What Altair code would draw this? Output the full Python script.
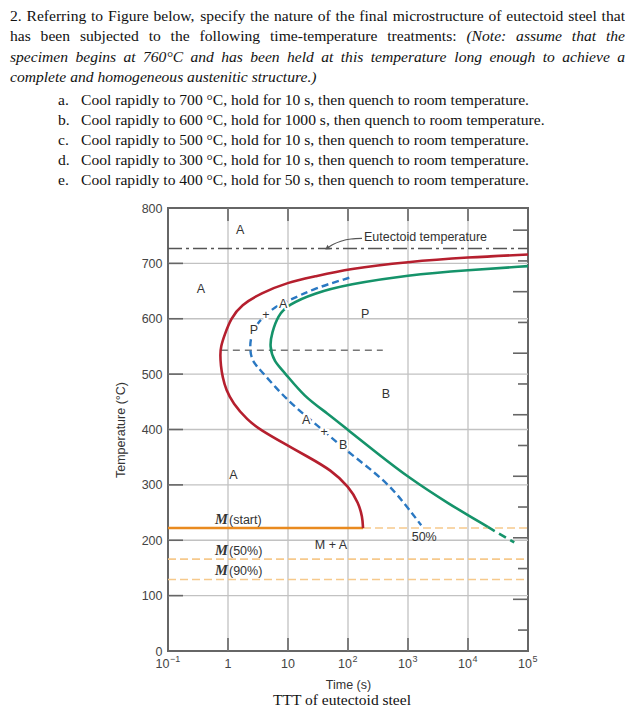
import altair as alt
import pandas as pd

# ---------------- question text ----------------
PARA_LINES = [
    [("2. Referring to Figure below, specify the nature of the final microstructure of eutectoid steel that", "normal")],
    [("has been subjected to the following time-temperature treatments:", "normal"),
     ("(Note: assume that the", "italic")],
    [("specimen begins at 760°C and has been held at this temperature long enough to achieve a", "italic")],
]
PARA_LAST = "complete and homogeneous austenitic structure.)"
ITEM_LABELS = ["a.", "b.", "c.", "d.", "e."]
ITEM_TEXTS = [
    "Cool rapidly to 700 °C, hold for 10 s, then quench to room temperature.",
    "Cool rapidly to 600 °C, hold for 1000 s, then quench to room temperature.",
    "Cool rapidly to 500 °C, hold for 10 s, then quench to room temperature.",
    "Cool rapidly to 300 °C, hold for 10 s, then quench to room temperature.",
    "Cool rapidly to 400 °C, hold for 50 s, then quench to room temperature.",
]
CAPTION = "TTT of eutectoid steel"

# ---------------- chart data (time in s, temperature in °C) ----------------
red_t = [1e5, 1e4, 1000, 100, 27, 10, 3.5, 1.66, 1.12, 0.87, 0.76, 0.74, 0.76, 0.81, 0.93,
         1.2, 2.1, 3.5, 8.5, 22, 52, 105, 150, 174, 178]
red_T = [716, 711, 703, 690, 676, 666, 646, 625, 601, 570, 550, 535, 515, 495, 471,
         448, 417, 399, 375, 350, 327, 296, 267, 242, 222]

green_t = [1e5, 1e4, 1000, 100, 27, 10, 6.8, 5.4, 4.9, 5.9, 8.5, 18.6, 46, 100, 309, 1000, 4570, 21400]
green_T = [695, 688, 679, 662, 646, 625, 606, 575, 550, 522, 505, 459, 429, 399, 357, 314, 267, 224]
green_dash_t = [21400, 59000]
green_dash_T = [224, 196]

blue_t = [105, 27.5, 10, 5.9, 4.3, 3.16, 2.4, 2.3, 2.57, 3.5, 6.8, 12.9, 35.5, 98, 407, 871, 1660]
blue_T = [674, 655, 632, 621, 606, 594, 570, 543, 522, 507, 471, 441, 402, 360, 309, 267, 227]

eutectoid_T = 727
nose_ref_t = [0.76, 380]
nose_ref_T = 543
ms_T = 222
ms_end_t = 178
m50_T = 166
m90_T = 129

region_labels = ["A", "A", "P", "B", "A", "M + A", "50%"]
region_t = [1.6, 0.355, 194, 430, 1.23, 52, 1862]
region_T = [761, 653, 608, 465, 318, 191, 206]
curve_labels = ["P", "+", "A", "A", "+", "B"]
curve_t = [2.7, 4.3, 8.3, 20, 40, 83]
curve_T = [579, 606, 626, 417, 396, 372]

m_suffix = ["(start)", "(50%)", "(90%)"]
m_label_t = [1.0, 1.0, 1.0]
m_label_T = [229, 173, 137]

eut_label = "Eutectoid temperature"
eut_label_t, eut_label_T = 185, 740
arrow_t = [171, 112, 76, 56, 46]
arrow_T = [745, 744, 740, 734, 728]

x_tick_vals = [0.1, 1, 10, 100, 1000, 10000, 100000]
x_tick_base = ["10", "1", "10", "10", "10", "10", "10"]
x_tick_exp = ["−1", "", "", "2", "3", "4", "5"]
y_tick_vals = [0, 100, 200, 300, 400, 500, 600, 700, 800]
right_F = [100, 200, 300, 400, 500, 600, 700, 800, 900, 1000, 1100, 1200, 1300, 1400]

# ---------------- layout helpers ----------------
W, H = 360, 443
X0, Y0 = 167, 208          # page position of the plot origin
SANS = "Liberation Sans, Arial, sans-serif"
SERIF = "Liberation Serif, Times New Roman, serif"
FS = 15.6
PX_PER_DECADE = W / 6


def t_at(px):
    return 10 ** (-1 + (px - X0) / PX_PER_DECADE)


def T_at(py):
    return 800 * (1 - (py - Y0) / H)


REG = dict(zip("abcdefghijklmnopqrstuvwxyz",
               [444, 500, 444, 500, 444, 333, 500, 500, 278, 278, 500, 278, 778, 500, 500, 500, 500,
                333, 389, 278, 500, 500, 722, 500, 500, 444]))
REG.update(dict(zip("ABCDEFGHIJKLMNOPQRSTUVWXYZ",
                    [722, 667, 667, 722, 611, 556, 722, 722, 333, 389, 722, 611, 889, 722, 722, 556,
                     722, 667, 556, 611, 722, 722, 944, 722, 722, 611])))
ITA = dict(zip("abcdefghijklmnopqrstuvwxyz",
               [500, 500, 444, 500, 444, 278, 500, 500, 278, 278, 444, 278, 722, 500, 500, 500, 500,
                389, 389, 278, 500, 444, 667, 444, 444, 389]))
ITA.update(dict(zip("ABCDEFGHIJKLMNOPQRSTUVWXYZ",
                    [611, 611, 667, 722, 611, 611, 722, 722, 333, 444, 667, 556, 833, 667, 722, 611,
                     722, 611, 500, 556, 722, 611, 833, 611, 556, 556])))
for d, colon in ((REG, 278), (ITA, 333)):
    d.update({c: 500 for c in "0123456789"})
    d.update({" ": 250, ".": 250, ",": 250, ":": colon, "(": 333, ")": 333, "-": 333, "°": 400, "%": 833})


def text_width(s, italic):
    tbl = ITA if italic else REG
    return sum(tbl.get(c, 500) for c in s) * FS / 1000


LEFT, RIGHT = 9, 624
BASE0, LH = 21, 20.4
rows_n, rows_i = [], []
for li, segs in enumerate(PARA_LINES):
    words = [(w, st) for txt, st in segs for w in txt.split(" ")]
    ws = [text_width(w, st == "italic") for w, st in words]
    gap = (RIGHT - LEFT - sum(ws)) / (len(words) - 1)
    x = LEFT
    for (w, st), wd in zip(words, ws):
        row = dict(t=t_at(x), T=T_at(BASE0 + li * LH), s=w)
        (rows_i if st == "italic" else rows_n).append(row)
        x += wd + gap
rows_i.append(dict(t=t_at(LEFT), T=T_at(BASE0 + 3 * LH), s=PARA_LAST))

LIST0, LLH = 105, 19.9
item_lab_df = pd.DataFrame(dict(t=[t_at(57)] * 5, T=[T_at(LIST0 + j * LLH) for j in range(5)], s=ITEM_LABELS))
item_txt_df = pd.DataFrame(dict(t=[t_at(80)] * 5, T=[T_at(LIST0 + j * LLH) for j in range(5)], s=ITEM_TEXTS))
cap_df = pd.DataFrame(dict(t=[t_at(341)], T=[T_at(705)], s=[CAPTION]))

# ---------------- scales / axes ----------------
xs = alt.Scale(type="log", domain=[0.1, 1e5], nice=False)
ys = alt.Scale(domain=[0, 800], nice=False, zero=False)
xaxis = alt.Axis(values=x_tick_vals, labels=False, title="Time (s)", grid=False,
                 ticks=False, tickSize=0, domain=False,
                 titleFont=SANS, titleFontSize=12.5, titleFontWeight="normal", titleColor="#333",
                 titlePadding=27)
yaxis = alt.Axis(values=y_tick_vals, title="Temperature (°C)", grid=False,
                 ticks=False, tickSize=0, domain=False, labelFont=SANS, labelFontSize=12.5,
                 labelColor="#444", labelPadding=6, titleFont=SANS, titleFontSize=12.5,
                 titleFontWeight="normal", titleColor="#333", titlePadding=14)
X = alt.X("t:Q", scale=xs, axis=xaxis)
Y = alt.Y("T:Q", scale=ys, axis=yaxis)


def curve(ts, Ts, color, width, dash=None, interp="basis"):
    df = pd.DataFrame(dict(t=ts, T=Ts, i=range(len(ts))))
    kw = dict(color=color, strokeWidth=width, interpolate=interp)
    if dash:
        kw["strokeDash"] = dash
    return alt.Chart(df).mark_line(**kw).encode(x=X, y=Y, order="i:Q")


layers = []

# grid lines
GRID = "#c2c2c2"
layers.append(alt.Chart(pd.DataFrame(dict(t=x_tick_vals[1:-1]))).mark_rule(color=GRID, strokeWidth=1.3)
              .encode(x=X, y=alt.value(0), y2=alt.value(H)))
layers.append(alt.Chart(pd.DataFrame(dict(T=y_tick_vals[1:-1]))).mark_rule(color=GRID, strokeWidth=1.3)
              .encode(y=Y, x=alt.value(0), x2=alt.value(W)))

# frame ticks
layers.append(alt.Chart(pd.DataFrame(dict(T=y_tick_vals))).mark_rule(color="#666", strokeWidth=1.6)
              .encode(y=Y, x=alt.value(0), x2=alt.value(15)))
layers.append(alt.Chart(pd.DataFrame(dict(t=x_tick_vals[1:-1]))).mark_rule(color="#666", strokeWidth=1.6)
              .encode(x=X, y=alt.value(H), y2=alt.value(H - 13)))
layers.append(alt.Chart(pd.DataFrame(dict(t=x_tick_vals[1:-1]))).mark_rule(color="#666", strokeWidth=1.6)
              .encode(x=X, y=alt.value(0), y2=alt.value(13)))
rc_long = [(f - 32) / 1.8 for f in right_F if f % 200 == 0]
rc_short = [(f - 32) / 1.8 for f in right_F if f % 200 != 0]
layers.append(alt.Chart(pd.DataFrame(dict(T=rc_long))).mark_rule(color="#666", strokeWidth=1.6)
              .encode(y=Y, x=alt.value(W), x2=alt.value(W - 15)))
layers.append(alt.Chart(pd.DataFrame(dict(T=rc_short))).mark_rule(color="#666", strokeWidth=1.6)
              .encode(y=Y, x=alt.value(W), x2=alt.value(W - 10)))

# x tick labels (base + superscript exponent)
plain = [(v, b) for v, b, e in zip(x_tick_vals, x_tick_base, x_tick_exp) if not e]
withexp = [(v, b, e) for v, b, e in zip(x_tick_vals, x_tick_base, x_tick_exp) if e]
anchor_t = [v * 10 ** ((6.5 - 2.5 * len(e)) / PX_PER_DECADE) for v, b, e in withexp]
layers.append(alt.Chart(pd.DataFrame(dict(t=[p[0] for p in plain], s=[p[1] for p in plain])))
              .mark_text(align="center", baseline="middle", font=SANS, fontSize=12.5, color="#444")
              .encode(x=X, y=alt.value(H + 13), text="s:N"))
layers.append(alt.Chart(pd.DataFrame(dict(t=anchor_t, s=[w[1] for w in withexp])))
              .mark_text(align="right", baseline="middle", font=SANS, fontSize=12.5, color="#444")
              .encode(x=X, y=alt.value(H + 13), text="s:N"))
layers.append(alt.Chart(pd.DataFrame(dict(t=anchor_t, s=[w[2] for w in withexp])))
              .mark_text(align="left", baseline="middle", font=SANS, fontSize=9, color="#444", dx=0.5)
              .encode(x=X, y=alt.value(H + 8), text="s:N"))

# horizontal reference lines
layers.append(curve([0.1, 1e5], [eutectoid_T] * 2, "#555", 1.5, [14, 4, 3, 4], "linear"))
layers.append(curve(nose_ref_t, [nose_ref_T] * 2, "#777", 1.6, [7, 5], "linear"))
layers.append(curve([ms_end_t, 1e5], [ms_T] * 2, "#f6c98c", 1.6, [8, 4], "linear"))
layers.append(curve([0.1, 1e5], [m50_T] * 2, "#f6c98c", 1.6, [8, 4], "linear"))
layers.append(curve([0.1, 1e5], [m90_T] * 2, "#f6c98c", 1.6, [8, 4], "linear"))
layers.append(curve([0.1, ms_end_t], [ms_T] * 2, "#e98a1f", 2.6, None, "linear"))

# transformation curves
layers.append(curve(red_t, red_T, "#b51f2e", 2.6))
layers.append(curve(green_t, green_T, "#15936a", 2.6))
layers.append(curve(green_dash_t, green_dash_T, "#15936a", 2.6, [8, 5], "linear"))
layers.append(curve(blue_t, blue_T, "#2a78c2", 2.4, [7, 4]))

# eutectoid arrow
layers.append(curve(arrow_t, arrow_T, "#555", 1.2, None, "monotone"))
layers.append(alt.Chart(pd.DataFrame(dict(t=[arrow_t[-1]], T=[arrow_T[-1]])))
              .mark_point(shape="triangle", angle=235, size=28, filled=True, color="#555", opacity=1)
              .encode(x=X, y=Y))
layers.append(alt.Chart(pd.DataFrame(dict(t=[eut_label_t], T=[eut_label_T], s=[eut_label])))
              .mark_text(align="left", baseline="alphabetic", font=SANS, fontSize=12.5, color="#333")
              .encode(x=X, y=Y, text="s:N"))

# region labels
layers.append(alt.Chart(pd.DataFrame(dict(t=region_t, T=region_T, s=region_labels)))
              .mark_text(align="center", baseline="middle", font=SANS, fontSize=12.5, color="#333")
              .encode(x=X, y=Y, text="s:N"))
cdf = pd.DataFrame(dict(t=curve_t, T=curve_T, s=curve_labels))
layers.append(alt.Chart(cdf).mark_text(align="center", baseline="middle", font=SANS, fontSize=12.5,
                                        color="white", stroke="white", strokeWidth=4)
              .encode(x=X, y=Y, text="s:N"))
layers.append(alt.Chart(cdf).mark_text(align="center", baseline="middle", font=SANS, fontSize=12.5,
                                        color="#333")
              .encode(x=X, y=Y, text="s:N"))

# martensite labels
mdf = pd.DataFrame(dict(t=m_label_t, T=m_label_T, s=m_suffix, m=["M"] * 3))
layers.append(alt.Chart(mdf).mark_text(align="right", baseline="alphabetic", font=SERIF, fontSize=14.5,
                                        fontStyle="italic", fontWeight="bold", color="#333")
              .encode(x=X, y=Y, text="m:N"))
layers.append(alt.Chart(mdf).mark_text(align="left", baseline="alphabetic", font=SANS, fontSize=12.5,
                                        color="#333", dx=1)
              .encode(x=X, y=Y, text="s:N"))

# question text and caption
layers.append(alt.Chart(pd.DataFrame(rows_n)).mark_text(align="left", baseline="alphabetic", font=SERIF,
                                                         fontSize=FS, color="#111")
              .encode(x=X, y=Y, text="s:N"))
layers.append(alt.Chart(pd.DataFrame(rows_i)).mark_text(align="left", baseline="alphabetic", font=SERIF,
                                                         fontSize=FS, fontStyle="italic", color="#111")
              .encode(x=X, y=Y, text="s:N"))
layers.append(alt.Chart(item_lab_df).mark_text(align="left", baseline="alphabetic", font=SERIF,
                                               fontSize=FS, color="#111")
              .encode(x=X, y=Y, text="s:N"))
layers.append(alt.Chart(item_txt_df).mark_text(align="left", baseline="alphabetic", font=SERIF,
                                               fontSize=FS, color="#111")
              .encode(x=X, y=Y, text="s:N"))
layers.append(alt.Chart(cap_df).mark_text(align="center", baseline="alphabetic", font=SERIF,
                                          fontSize=15.5, color="#111")
              .encode(x=X, y=Y, text="s:N"))

chart = (alt.layer(*layers)
         .properties(width=W, height=H, padding={"left": 1, "top": 0, "right": 0, "bottom": 0},
                     background="white")
         .configure_view(stroke="#666", strokeWidth=2))

chart.save("out.html", embed_options={"renderer": "svg", "actions": False})
